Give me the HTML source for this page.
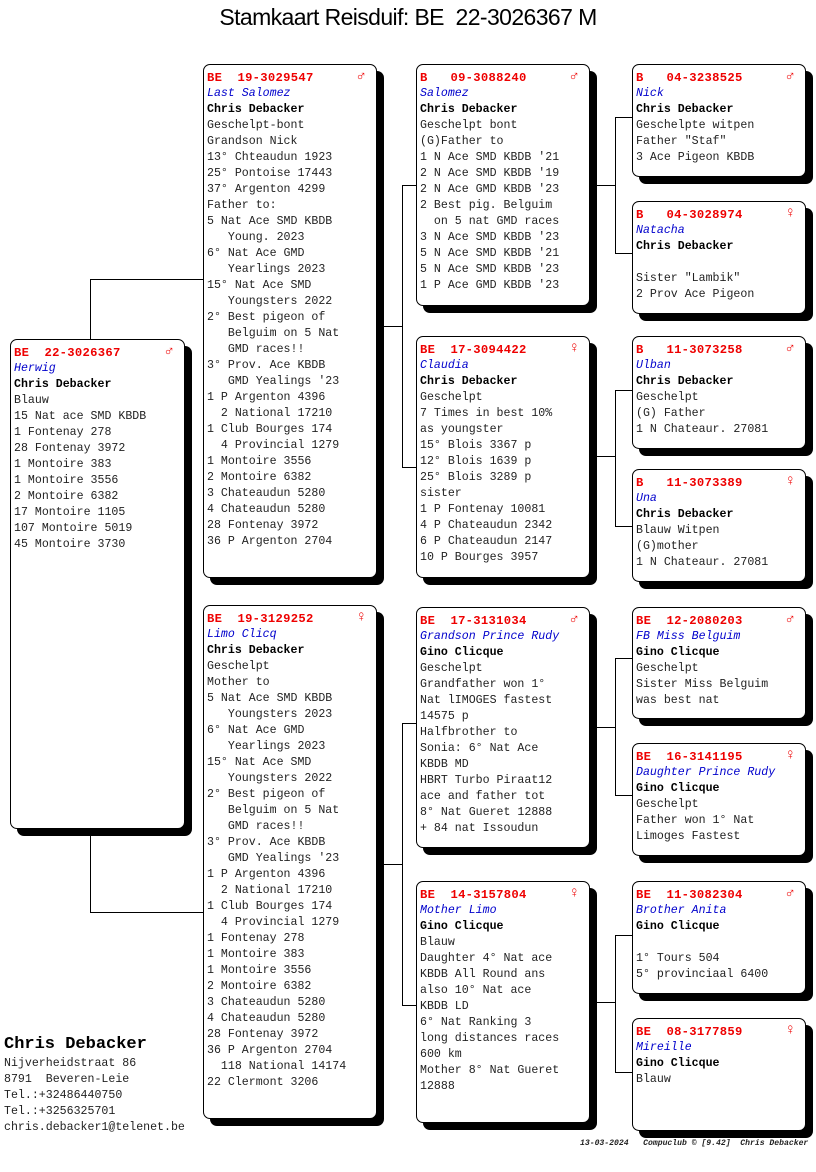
<!DOCTYPE html>
<html><head><meta charset="utf-8">
<style>
body{margin:0;width:816px;height:1172px;background:#fff;position:relative;overflow:hidden;font-family:"Liberation Mono",monospace;}
.t{position:absolute;left:0;width:816px;top:4px;text-align:center;font-family:"Liberation Sans",sans-serif;font-size:23px;letter-spacing:-0.6px;color:#000}
.b{position:absolute;border:1px solid #000;border-radius:7px;background:#fff;box-shadow:7px 7px 0 #000;box-sizing:border-box;padding:5px 0 0 3px;font-size:11.6px;line-height:16px;color:#222;white-space:pre;}
.h{color:#e00;font-weight:bold;position:relative;font-size:12.2px;line-height:16px;letter-spacing:0.3px}
.h span{position:absolute;right:10px;top:-1px;font-weight:bold;font-size:15px}
.n{color:#00c;font-style:italic}
.o{font-weight:bold;color:#000}
.l{position:absolute;background:#000}
.foot{position:absolute;left:4px;top:1034px;font-size:11.6px;line-height:16px;color:#222;white-space:pre}
.foot b{font-size:17px;line-height:22px;color:#000}
.sig{position:absolute;left:580px;top:1139px;font-size:8.1px;font-style:italic;font-weight:bold;color:#222;white-space:pre;font-family:"Liberation Mono",monospace}
</style></head><body>
<div class="t">Stamkaart Reisduif: BE&nbsp; 22-3026367 M</div>

<div class="l" style="left:90px;top:279px;width:1px;height:60px"></div>
<div class="l" style="left:90px;top:279px;width:113px;height:1px"></div>
<div class="l" style="left:90px;top:828px;width:1px;height:84px"></div>
<div class="l" style="left:90px;top:912px;width:113px;height:1px"></div>

<div class="l" style="left:376px;top:326px;width:27px;height:1px"></div>
<div class="l" style="left:402px;top:185px;width:1px;height:282px"></div>
<div class="l" style="left:402px;top:185px;width:14px;height:1px"></div>
<div class="l" style="left:402px;top:467px;width:14px;height:1px"></div>

<div class="l" style="left:376px;top:864px;width:27px;height:1px"></div>
<div class="l" style="left:402px;top:723px;width:1px;height:282px"></div>
<div class="l" style="left:402px;top:723px;width:14px;height:1px"></div>
<div class="l" style="left:402px;top:1005px;width:14px;height:1px"></div>

<div class="l" style="left:589px;top:185px;width:27px;height:1px"></div>
<div class="l" style="left:615px;top:117px;width:1px;height:136px"></div>
<div class="l" style="left:615px;top:117px;width:18px;height:1px"></div>
<div class="l" style="left:615px;top:253px;width:18px;height:1px"></div>

<div class="l" style="left:589px;top:456px;width:27px;height:1px"></div>
<div class="l" style="left:615px;top:390px;width:1px;height:136px"></div>
<div class="l" style="left:615px;top:390px;width:18px;height:1px"></div>
<div class="l" style="left:615px;top:526px;width:18px;height:1px"></div>

<div class="l" style="left:589px;top:727px;width:27px;height:1px"></div>
<div class="l" style="left:615px;top:658px;width:1px;height:137px"></div>
<div class="l" style="left:615px;top:658px;width:18px;height:1px"></div>
<div class="l" style="left:615px;top:795px;width:18px;height:1px"></div>

<div class="l" style="left:589px;top:1002px;width:27px;height:1px"></div>
<div class="l" style="left:615px;top:935px;width:1px;height:137px"></div>
<div class="l" style="left:615px;top:935px;width:18px;height:1px"></div>
<div class="l" style="left:615px;top:1072px;width:18px;height:1px"></div>

<div class="b" style="left:10px;top:339px;width:175px;height:490px"><div class="h">BE  22-3026367<span>♂</span></div><div class="n">Herwig</div><div class="o">Chris Debacker</div>Blauw
15 Nat ace SMD KBDB
1 Fontenay 278
28 Fontenay 3972
1 Montoire 383
1 Montoire 3556
2 Montoire 6382
17 Montoire 1105
107 Montoire 5019
45 Montoire 3730</div>

<div class="b" style="left:203px;top:64px;width:174px;height:514px"><div class="h">BE  19-3029547<span>♂</span></div><div class="n">Last Salomez</div><div class="o">Chris Debacker</div>Geschelpt-bont
Grandson Nick
13° Chteaudun 1923
25° Pontoise 17443
37° Argenton 4299
Father to:
5 Nat Ace SMD KBDB
   Young. 2023
6° Nat Ace GMD
   Yearlings 2023
15° Nat Ace SMD
   Youngsters 2022
2° Best pigeon of
   Belguim on 5 Nat
   GMD races!!
3° Prov. Ace KBDB
   GMD Yealings '23
1 P Argenton 4396
  2 National 17210
1 Club Bourges 174
  4 Provincial 1279
1 Montoire 3556
2 Montoire 6382
3 Chateaudun 5280
4 Chateaudun 5280
28 Fontenay 3972
36 P Argenton 2704</div>

<div class="b" style="left:203px;top:605px;width:174px;height:514px"><div class="h">BE  19-3129252<span>♀</span></div><div class="n">Limo Clicq</div><div class="o">Chris Debacker</div>Geschelpt
Mother to
5 Nat Ace SMD KBDB
   Youngsters 2023
6° Nat Ace GMD
   Yearlings 2023
15° Nat Ace SMD
   Youngsters 2022
2° Best pigeon of
   Belguim on 5 Nat
   GMD races!!
3° Prov. Ace KBDB
   GMD Yealings '23
1 P Argenton 4396
  2 National 17210
1 Club Bourges 174
  4 Provincial 1279
1 Fontenay 278
1 Montoire 383
1 Montoire 3556
2 Montoire 6382
3 Chateaudun 5280
4 Chateaudun 5280
28 Fontenay 3972
36 P Argenton 2704
  118 National 14174
22 Clermont 3206</div>

<div class="b" style="left:416px;top:64px;width:174px;height:242px"><div class="h">B   09-3088240<span>♂</span></div><div class="n">Salomez</div><div class="o">Chris Debacker</div>Geschelpt bont
(G)Father to
1 N Ace SMD KBDB '21
2 N Ace SMD KBDB '19
2 N Ace GMD KBDB '23
2 Best pig. Belguim
  on 5 nat GMD races
3 N Ace SMD KBDB '23
5 N Ace SMD KBDB '21
5 N Ace SMD KBDB '23
1 P Ace GMD KBDB '23</div>

<div class="b" style="left:416px;top:336px;width:174px;height:242px"><div class="h">BE  17-3094422<span>♀</span></div><div class="n">Claudia</div><div class="o">Chris Debacker</div>Geschelpt
7 Times in best 10%
as youngster
15° Blois 3367 p
12° Blois 1639 p
25° Blois 3289 p
sister
1 P Fontenay 10081
4 P Chateaudun 2342
6 P Chateaudun 2147
10 P Bourges 3957</div>

<div class="b" style="left:416px;top:607px;width:174px;height:241px"><div class="h">BE  17-3131034<span>♂</span></div><div class="n">Grandson Prince Rudy</div><div class="o">Gino Clicque</div>Geschelpt
Grandfather won 1°
Nat lIMOGES fastest
14575 p
Halfbrother to
Sonia: 6° Nat Ace
KBDB MD
HBRT Turbo Piraat12
ace and father tot
8° Nat Gueret 12888
+ 84 nat Issoudun</div>

<div class="b" style="left:416px;top:881px;width:174px;height:242px"><div class="h">BE  14-3157804<span>♀</span></div><div class="n">Mother Limo</div><div class="o">Gino Clicque</div>Blauw
Daughter 4° Nat ace
KBDB All Round ans
also 10° Nat ace
KBDB LD
6° Nat Ranking 3
long distances races
600 km
Mother 8° Nat Gueret
12888</div>

<div class="b" style="left:632px;top:64px;width:174px;height:113px"><div class="h">B   04-3238525<span>♂</span></div><div class="n">Nick</div><div class="o">Chris Debacker</div>Geschelpte witpen
Father "Staf"
3 Ace Pigeon KBDB</div>
<div class="b" style="left:632px;top:201px;width:174px;height:113px"><div class="h">B   04-3028974<span>♀</span></div><div class="n">Natacha</div><div class="o">Chris Debacker</div>
Sister "Lambik"
2 Prov Ace Pigeon</div>
<div class="b" style="left:632px;top:336px;width:174px;height:113px"><div class="h">B   11-3073258<span>♂</span></div><div class="n">Ulban</div><div class="o">Chris Debacker</div>Geschelpt
(G) Father
1 N Chateaur. 27081</div>
<div class="b" style="left:632px;top:469px;width:174px;height:113px"><div class="h">B   11-3073389<span>♀</span></div><div class="n">Una</div><div class="o">Chris Debacker</div>Blauw Witpen
(G)mother
1 N Chateaur. 27081</div>
<div class="b" style="left:632px;top:607px;width:174px;height:112px"><div class="h">BE  12-2080203<span>♂</span></div><div class="n">FB Miss Belguim</div><div class="o">Gino Clicque</div>Geschelpt
Sister Miss Belguim
was best nat</div>
<div class="b" style="left:632px;top:743px;width:174px;height:113px"><div class="h">BE  16-3141195<span>♀</span></div><div class="n">Daughter Prince Rudy</div><div class="o">Gino Clicque</div>Geschelpt
Father won 1° Nat
Limoges Fastest</div>
<div class="b" style="left:632px;top:881px;width:174px;height:113px"><div class="h">BE  11-3082304<span>♂</span></div><div class="n">Brother Anita</div><div class="o">Gino Clicque</div>
1° Tours 504
5° provinciaal 6400</div>
<div class="b" style="left:632px;top:1018px;width:174px;height:113px"><div class="h">BE  08-3177859<span>♀</span></div><div class="n">Mireille</div><div class="o">Gino Clicque</div>Blauw</div>

<div class="foot"><b>Chris Debacker</b>
Nijverheidstraat 86
8791  Beveren-Leie
Tel.:+32486440750
Tel.:+3256325701
chris.debacker1@telenet.be</div>
<div class="sig">13-03-2024   Compuclub © [9.42]  Chris Debacker</div>
</body></html>
